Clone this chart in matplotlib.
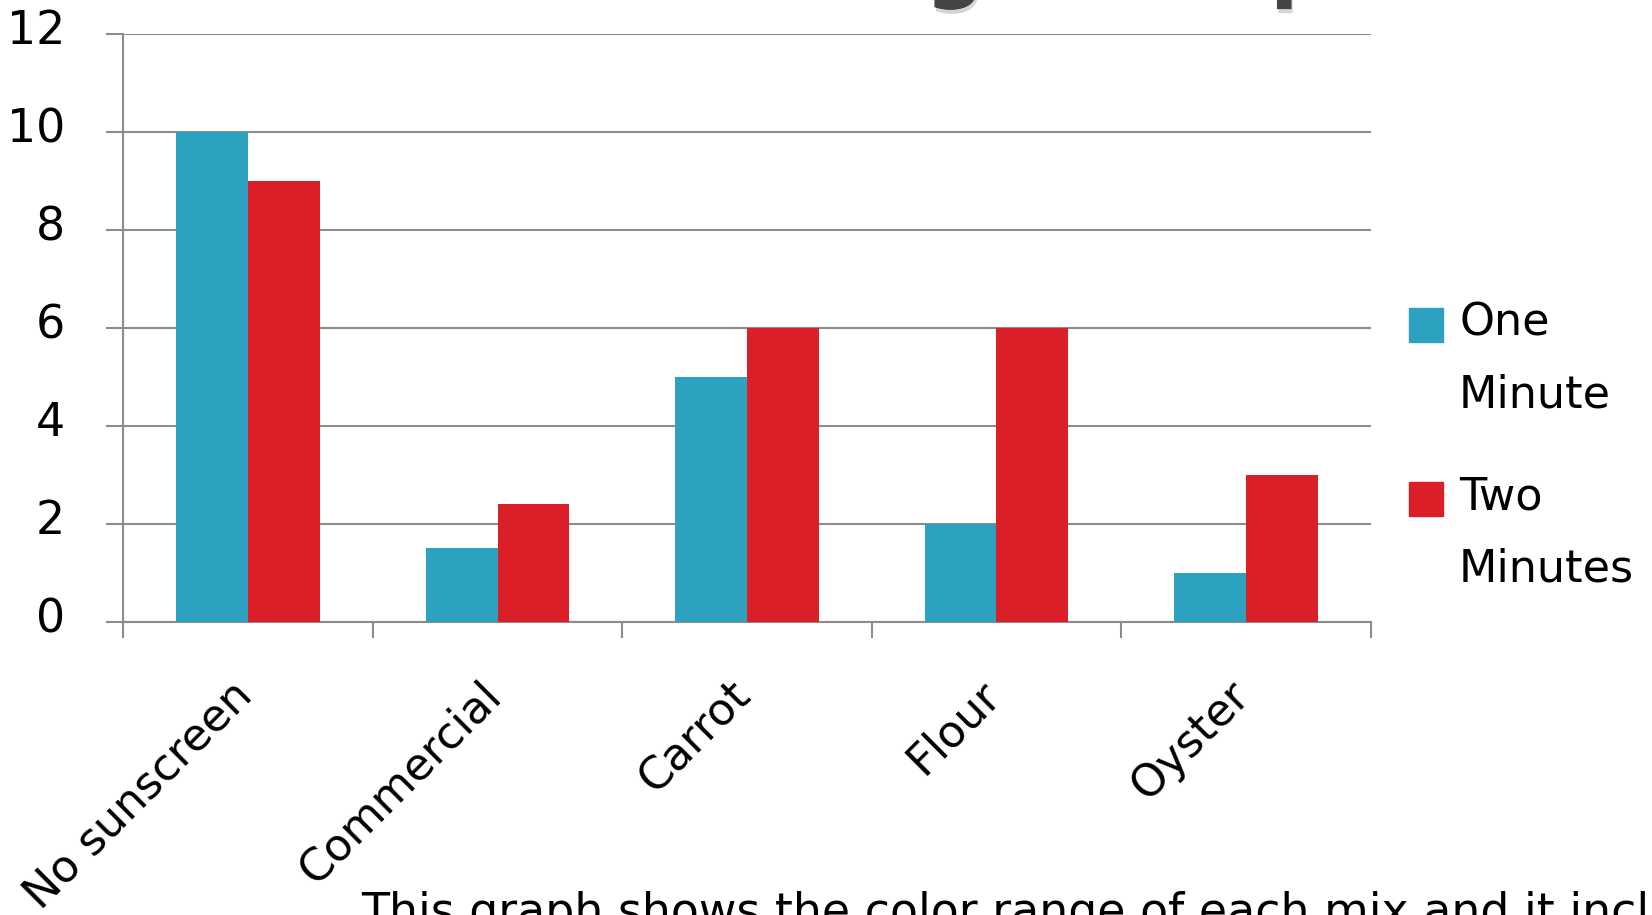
import matplotlib
matplotlib.use("Agg")
import matplotlib.pyplot as plt
from matplotlib.patches import Rectangle
from matplotlib.transforms import ScaledTranslation
import matplotlib.patheffects as pe
import numpy as np

# data
categories = ["No sunscreen", "Commercial", "Carrot", "Flour", "Oyster"]
one_minute = [10, 1.5, 5, 2, 1]
two_minutes = [9, 2.4, 6, 6, 3]
series_names = [["One", "Minute"], ["Two", "Minutes"]]
yticks = [0, 2, 4, 6, 8, 10, 12]

blue = "#2ca2c0"
red = "#da1f28"
grey = "#8c8c8c"

plt.rcParams["font.family"] = ["DejaVu Sans"]

W, H = 1652, 915
fig = plt.figure(figsize=(W / 100, H / 100), dpi=100)


def fx(x):
    return x / W


def fy(y):
    return 1 - y / H


ax = fig.add_axes([fx(123.3), fy(621.6), fx(1370.7) - fx(123.3), fy(33.7) - fy(621.6)])

x = np.arange(len(categories))
bw = 0.287
ax.bar(x - bw / 2, one_minute, width=bw, color=blue, zorder=3)
ax.bar(x + bw / 2, two_minutes, width=bw, color=red, zorder=3)

ax.set_xlim(-0.5, len(categories) - 0.5)
ax.set_ylim(0, 12)
ax.set_yticks(yticks)
ax.set_yticklabels([str(v) for v in yticks], fontsize=33)
ax.yaxis.grid(True, color=grey, linewidth=1.5, zorder=0)
ax.tick_params(axis="y", length=12, width=1.5, color=grey, pad=30)
# numbers sit a little above their gridlines
lift = ScaledTranslation(0, 0.07, fig.dpi_scale_trans)
for lbl in ax.get_yticklabels():
    lbl.set_transform(lbl.get_transform() + lift)

# tick marks between groups, labels under each group
ax.set_xticks(np.arange(len(categories) + 1) - 0.5)
ax.set_xticklabels([])
ax.tick_params(axis="x", which="major", length=11.5, width=1.5, color=grey)
ax.set_xticks(x, minor=True)
ax.set_xticklabels(categories, minor=True, fontsize=32, rotation=45,
                   ha="right", va="center", rotation_mode="anchor")
ax.tick_params(axis="x", which="minor", length=0, pad=48)
nudge = ScaledTranslation(-0.03, 0, fig.dpi_scale_trans)
for lbl in ax.get_xticklabels(minor=True):
    lbl.set_transform(lbl.get_transform() + nudge)

for s in ["top", "right"]:
    ax.spines[s].set_visible(False)
for s in ["left", "bottom"]:
    ax.spines[s].set_color(grey)
    ax.spines[s].set_linewidth(1.5)

# legend drawn by hand
legend_rows = [(308, blue, series_names[0], (335, 408)),
               (482, red, series_names[1], (510, 582))]
for sq_top, col, words, baselines in legend_rows:
    fig.add_artist(Rectangle((fx(1409), fy(sq_top + 34)), fx(34), 34 / H,
                             transform=fig.transFigure, color=col))
    for word, base in zip(words, baselines):
        fig.text(fx(1459), fy(base), word, fontsize=32, va="baseline", ha="left")

# title sits mostly above the canvas
fig.text(fx(479), fy(-8), "Color Range Comparison", fontsize=59,
         fontweight="bold", color="#444444", va="baseline", ha="left",
         path_effects=[pe.withSimplePatchShadow(offset=(1, -3), shadow_rgbFace="#aaaaaa", alpha=0.5),
                       pe.Normal()])

fig.text(fx(361), fy(926), "This graph shows the color range of each mix and it includes",
         fontsize=33, va="baseline", ha="left")

fig.savefig("out.png", dpi=100)
